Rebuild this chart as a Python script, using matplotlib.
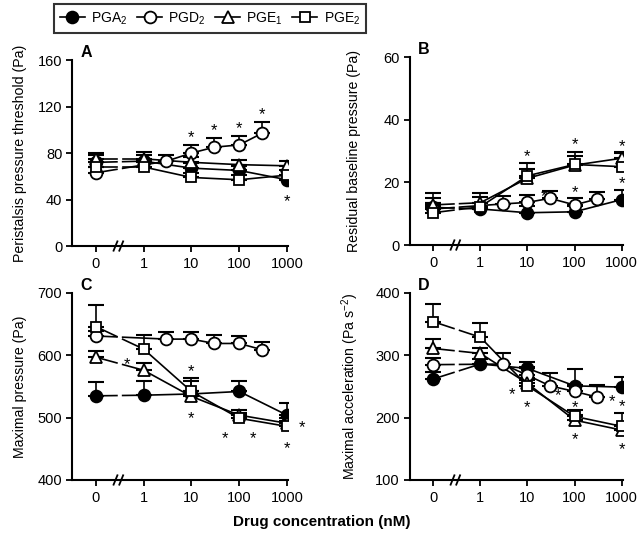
import numpy as np
import matplotlib
matplotlib.use("Agg")
import matplotlib.pyplot as plt

plt.rcParams['font.family'] = ['Liberation Sans', 'DejaVu Sans']
plt.rcParams['mathtext.fontset'] = 'custom'
plt.rcParams['mathtext.rm'] = 'Liberation Sans'
plt.rcParams['mathtext.it'] = 'Liberation Sans:italic'
plt.rcParams['mathtext.bf'] = 'Liberation Sans:bold'

# concentrations (nM); 0 = control
conc = [0, 1, 10, 100, 1000]
conc_d2 = [0, 3, 10, 30, 100, 300]
tick_labels = ['0', '1', '10', '100', '1000']
names = ['PGA$_2$', 'PGD$_2$', 'PGE$_1$', 'PGE$_2$']

# A: peristalsis pressure threshold (Pa)
A_pga2 = [72, 73, 67, 65, 57]
A_pga2_err = [6, 5, 4, 4, 4]
A_pgd2 = [63, 73, 80, 85, 87, 97]
A_pgd2_err = [5, 5, 7, 8, 8, 10]
A_pge1 = [75, 75, 72, 70, 69]
A_pge1_err = [5, 6, 5, 4, 4]
A_pge2 = [68, 68, 59, 57, 61]
A_pge2_err = [4, 4, 4, 4, 4]

# B: residual baseline pressure (Pa)
B_pga2 = [12, 11.5, 10.3, 10.6, 14.5]
B_pga2_err = [3, 2, 2, 2, 3]
B_pgd2 = [11.5, 13.1, 13.6, 14.9, 12.8, 14.7]
B_pgd2_err = [2, 2.5, 2.3, 2.3, 2.1, 2.2]
B_pge1 = [12.8, 13.5, 21.3, 25.5, 27.7]
B_pge1_err = [3.7, 3, 3, 3, 2]
B_pge2 = [10.3, 12.2, 22.1, 25.7, 25]
B_pge2_err = [3, 3, 4, 4, 4.5]

# C: maximal pressure (Pa)
C_pga2 = [535, 536, 538, 542, 504]
C_pga2_err = [22, 22, 20, 17, 19]
C_pgd2 = [631, 626, 626, 619, 619, 609]
C_pgd2_err = [8, 11, 11, 14, 12, 13]
C_pge1 = [597, 576, 534, 504, 491]
C_pge1_err = [10, 12, 8, 8, 8]
C_pge2 = [646, 610, 542, 499, 486]
C_pge2_err = [35, 23, 21, 8, 8]

# D: maximal acceleration (Pa s-2)
D_pga2 = [262, 286, 279, 251, 249]
D_pga2_err = [12, 8, 11, 27, 16]
D_pgd2 = [285, 286, 268, 251, 242, 233]
D_pgd2_err = [10, 18, 14, 21, 10, 19]
D_pge1 = [311, 303, 255, 196, 180]
D_pge1_err = [15, 9, 8, 8, 8]
D_pge2 = [354, 329, 251, 202, 186]
D_pge2_err = [28, 23, 10, 10, 21]

# significance stars: (series index, concentration, dx pt, dy pt, anchor)
A_stars = [(1, 10, 0, 5, 'top'), (1, 30, 0, 5, 'top'), (1, 100, 0, 5, 'top'),
           (1, 300, 0, 5, 'top'), (0, 1000, 0, -16, 'mid')]
B_stars = [(3, 10, 0, 5, 'top'), (2, 10, 12, -13, 'mid'), (3, 100, 0, 5, 'top'),
           (2, 100, 0, -20, 'mid'), (2, 1000, 0, 4, 'top'), (0, 1000, 0, 5, 'top')]
C_stars = [(2, 1, -12, 4, 'mid'), (3, 10, 0, 5, 'top'), (2, 10, 0, -16, 'mid'),
           (3, 100, -10, -15, 'mid'), (3, 100, 10, -15, 'mid'),
           (3, 1000, 11, -1, 'mid'), (3, 1000, 0, -16, 'mid')]
D_stars = [(2, 10, -11, -8, 'mid'), (3, 10, 0, -16, 'mid'), (1, 100, -12, -3, 'mid'),
           (3, 100, 0, 6, 'mid'), (2, 100, 0, -14, 'mid'), (1, 300, 11, -3, 'mid'),
           (3, 1000, 0, 5, 'top'), (2, 1000, 0, -14, 'mid')]


def xpos(c):
    c = np.asarray(c, dtype=float)
    return np.where(c > 0, np.log10(np.where(c > 0, c, 1)), -1.0)


styles = [dict(marker='o', mfc='black'), dict(marker='o', mfc='white'),
          dict(marker='^', mfc='white'), dict(marker='s', mfc='white')]
msizes = [8.5, 8.5, 8.5, 7.5]


def panel(ax, series, stars, ylim, yticks, ylabel, letter, labx):
    for i, (c, y, e) in enumerate(series):
        u = xpos(c)
        y = np.asarray(y, float)
        e = np.asarray(e, float)
        # broken first segment (control -> first dose)
        g0, g1 = -0.56, -0.44
        ya = y[0] + (y[1] - y[0]) * (g0 - u[0]) / (u[1] - u[0])
        yb = y[0] + (y[1] - y[0]) * (g1 - u[0]) / (u[1] - u[0])
        ax.plot([u[0], g0], [y[0], ya], color='black', lw=1.2, zorder=2)
        ax.plot([g1, u[1]], [yb, y[1]], color='black', lw=1.2, zorder=2)
        ax.plot(u[1:], y[1:], color='black', lw=1.2, zorder=2)
        ax.errorbar(u, y, yerr=[np.zeros_like(e), e], fmt='none', ecolor='black',
                    elinewidth=1.2, capsize=6, capthick=1.5, zorder=3)
        ax.plot(u, y, ls='none', mec='black', mew=1.3, ms=msizes[i], zorder=4 + i,
                **styles[i])
    for si, c, dx, dy, anchor in stars:
        cs, ys, es = series[si]
        k = list(cs).index(c)
        yv = ys[k] + (es[k] if anchor == 'top' else 0)
        ax.annotate('*', xy=(xpos([c])[0], yv), xytext=(dx, dy),
                    textcoords='offset points', ha='center', va='center',
                    fontsize=12, zorder=10)
    ax.set_xlim(-1.5, 3.02)
    ax.set_ylim(*ylim)
    ax.set_yticks(yticks)
    ax.set_xticks([-1, 0, 1, 2, 3])
    ax.set_xticklabels(tick_labels)
    ax.spines['top'].set_visible(False)
    ax.spines['right'].set_visible(False)
    for s in ['left', 'bottom']:
        ax.spines[s].set_linewidth(1.5)
    ax.tick_params(direction='out', length=4, width=1.3, labelsize=10.5, pad=3)
    ax.tick_params(axis='x', pad=4)
    ax.set_ylabel(ylabel, fontsize=10.2)
    ax.yaxis.set_label_coords(labx, 0.5)
    tr = ax.get_xaxis_transform()
    for off in (-0.07, 0.05):
        ax.plot([-0.56 + off, -0.48 + off], [-0.025, 0.025], color='black', lw=1.3,
                transform=tr, clip_on=False, zorder=6)
    ax.text(0.04, 1.0, letter, transform=ax.transAxes, fontsize=11.5,
            fontweight='bold', ha='left', va='bottom')


fig = plt.figure(figsize=(6.4, 5.36), dpi=100)
axA = fig.add_axes([0.1125, 0.5410, 0.3375, 0.3470])
axB = fig.add_axes([0.6400, 0.5429, 0.3330, 0.3507])
axC = fig.add_axes([0.1125, 0.1045, 0.3375, 0.3489])
axD = fig.add_axes([0.6400, 0.1045, 0.3330, 0.3489])

panel(axA, [(conc, A_pga2, A_pga2_err), (conc_d2, A_pgd2, A_pgd2_err),
            (conc, A_pge1, A_pge1_err), (conc, A_pge2, A_pge2_err)],
      A_stars, (0, 160), [0, 40, 80, 120, 160],
      'Peristalsis pressure threshold (Pa)', 'A', -0.21)
panel(axB, [(conc, B_pga2, B_pga2_err), (conc_d2, B_pgd2, B_pgd2_err),
            (conc, B_pge1, B_pge1_err), (conc, B_pge2, B_pge2_err)],
      B_stars, (0, 60), [0, 20, 40, 60],
      'Residual baseline pressure (Pa)', 'B', -0.226)
panel(axC, [(conc, C_pga2, C_pga2_err), (conc_d2, C_pgd2, C_pgd2_err),
            (conc, C_pge1, C_pge1_err), (conc, C_pge2, C_pge2_err)],
      C_stars, (400, 700), [400, 500, 600, 700],
      'Maximal pressure (Pa)', 'C', -0.21)
panel(axD, [(conc, D_pga2, D_pga2_err), (conc_d2, D_pgd2, D_pgd2_err),
            (conc, D_pge1, D_pge1_err), (conc, D_pge2, D_pge2_err)],
      D_stars, (100, 400), [100, 200, 300, 400],
      'Maximal acceleration (Pa s$^{-2}$)', 'D', -0.226)

fig.text(0.503, 0.026, 'Drug concentration (nM)', ha='center', va='center',
         fontsize=11, fontweight='bold')

handles = [plt.Line2D([], [], color='black', lw=1.2, mec='black', mew=1.3,
                      ms=msizes[i], **styles[i]) for i in range(4)]
leg = fig.legend(handles, names, loc='center', bbox_to_anchor=(0.328, 0.9655),
                 ncol=4, frameon=True, fancybox=False, edgecolor='black',
                 fontsize=10, handlelength=1.8, handletextpad=0.45,
                 columnspacing=0.7, borderpad=0.45, borderaxespad=0)
leg.get_frame().set_linewidth(1.5)

fig.savefig('out.png', dpi=100)
